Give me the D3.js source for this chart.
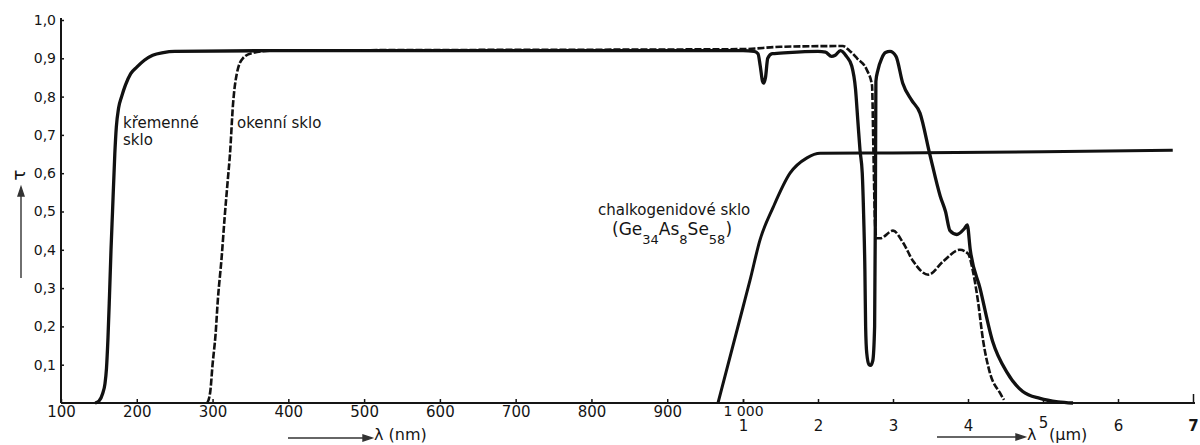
<!DOCTYPE html>
<html>
<head>
<meta charset="utf-8">
<script src="https://cdn.jsdelivr.net/npm/d3@7"></script>
<style>
  body { margin: 0; background: #fff; }
  text { font-family: "DejaVu Sans", sans-serif; fill: #151515; }
</style>
</head>
<body>
<div id="chart"></div>
<script>
// wavelength in nm, transmittance tau
const kremenne = [
  [145, 0], [150, 0.005], [155, 0.025], [158, 0.05], [160, 0.09], [162, 0.17], [164, 0.28],
  [166, 0.4], [168, 0.5], [171, 0.65], [173, 0.72], [176, 0.77], [180, 0.8], [185, 0.83],
  [192, 0.86], [200, 0.877], [210, 0.895], [221, 0.908], [235, 0.915], [250, 0.918],
  [400, 0.92], [1000, 0.92], [1150, 0.918], [1200, 0.912], [1230, 0.88], [1260, 0.84],
  [1275, 0.835], [1300, 0.85], [1330, 0.9], [1390, 0.912], [1600, 0.915], [2000, 0.918],
  [2100, 0.916], [2180, 0.905], [2230, 0.908], [2300, 0.92], [2380, 0.905], [2450, 0.88],
  [2500, 0.82], [2530, 0.74], [2560, 0.66], [2590, 0.6], [2610, 0.48], [2625, 0.35],
  [2635, 0.2], [2650, 0.13], [2680, 0.1], [2700, 0.098], [2730, 0.11], [2755, 0.2],
  [2765, 0.5], [2772, 0.84], [2800, 0.87], [2850, 0.9], [2900, 0.915], [2960, 0.918],
  [3040, 0.905], [3130, 0.835], [3250, 0.79], [3360, 0.757], [3490, 0.65], [3630, 0.54],
  [3700, 0.5], [3760, 0.45], [3850, 0.44], [3950, 0.455], [3990, 0.465], [4030, 0.4],
  [4160, 0.3], [4330, 0.16], [4520, 0.08], [4730, 0.03], [4960, 0.012], [5200, 0.003], [5400, 0]
];

const okenni = [
  [293, 0], [297, 0.03], [300, 0.1], [304, 0.18], [307, 0.27], [312, 0.38], [316, 0.486],
  [320, 0.58], [323, 0.65], [327, 0.78], [332, 0.86], [340, 0.9], [353, 0.914], [380, 0.92],
  [1000, 0.924], [1500, 0.93], [2330, 0.932], [2420, 0.92], [2520, 0.9], [2650, 0.87],
  [2720, 0.83], [2740, 0.65], [2760, 0.47], [2780, 0.43], [2830, 0.43], [3000, 0.45],
  [3130, 0.42], [3270, 0.37], [3470, 0.335], [3670, 0.37], [3890, 0.4], [4000, 0.39],
  [4070, 0.34], [4130, 0.27], [4200, 0.165], [4290, 0.08], [4430, 0.025], [4480, 0.008]
];

const chalkogenid = [
  [967, 0], [1000, 0.25], [1093, 0.32], [1227, 0.426], [1400, 0.51], [1627, 0.6],
  [1853, 0.64], [2030, 0.652], [3000, 0.653], [5000, 0.656], [6730, 0.66]
];

const nmTicks = [100, 200, 300, 400, 500, 600, 700, 800, 900, 1000];
const umTicks = [1, 2, 3, 4, 5, 6, 7];
const tauTicks = [0.1, 0.2, 0.3, 0.4, 0.5, 0.6, 0.7, 0.8, 0.9, 1.0];

const W = 1200, H = 445;

const svg = d3.select("#chart").append("svg")
  .attr("width", W).attr("height", H);

// split axis: nm up to 1000, then µm
const x = d3.scaleLinear().domain([100, 1000, 7000]).range([61, 743, 1193]);
const y = d3.scaleLinear().domain([0, 1]).range([403, 20]);

// y axis
const yAxis = svg.append("g")
  .attr("transform", "translate(61,0)")
  .call(d3.axisLeft(y).tickValues(tauTicks).tickSizeInner(-3).tickSizeOuter(0)
    .tickPadding(5).tickFormat(d => d3.format(".1f")(d).replace(".", ",")));
yAxis.select(".domain").attr("stroke", "#151515").attr("stroke-width", 2)
  .attr("d", "M0,403V18");
yAxis.selectAll("line").attr("stroke", "#151515").attr("stroke-width", 1.5);
yAxis.selectAll("text").style("font-size", "14px").attr("fill", "#151515");

// x axis, nm part
const xNm = svg.append("g")
  .attr("transform", "translate(0,403)")
  .call(d3.axisBottom(x).tickValues(nmTicks).tickSizeInner(-4).tickSizeOuter(0)
    .tickFormat(d => d === 1000 ? "1 000" : d));
xNm.select(".domain").remove();
xNm.selectAll("line").attr("stroke", "#151515").attr("stroke-width", 1.5);
xNm.selectAll("text").attr("y", 14).attr("dy", 0).style("font-size", "15px").attr("fill", "#151515");
xNm.selectAll(".tick").filter(d => d === 1000).select("text").style("font-size", "14px").attr("y", 13);

// x axis, µm part
const xUm = svg.append("g")
  .attr("transform", "translate(0,403)")
  .call(d3.axisBottom(x).tickValues(umTicks.map(d => d * 1000)).tickSizeInner(-4).tickSizeOuter(0)
    .tickFormat(d => d / 1000));
xUm.select(".domain").remove();
xUm.selectAll("line").attr("stroke", "#151515").attr("stroke-width", 1.5);
xUm.selectAll("text").attr("y", 28).attr("dy", 0).style("font-size", "15px").attr("fill", "#151515")
  .style("font-weight", d => d === 7000 ? "bold" : null);
xUm.selectAll(".tick").filter(d => d === 5000).select("text").attr("y", 25);
xUm.selectAll(".tick").filter(d => d === 7000).select("line").attr("y2", -9);

svg.append("line")
  .attr("x1", 61).attr("x2", 1195).attr("y1", 403).attr("y2", 403)
  .attr("stroke", "#151515").attr("stroke-width", 2);

// curves
const line = d3.line()
  .x(d => x(d[0]))
  .y(d => y(d[1]))
  .curve(d3.curveMonotoneX);

svg.append("path").datum(kremenne)
  .attr("fill", "none").attr("stroke", "#111").attr("stroke-width", 3.3)
  .attr("stroke-linejoin", "round").attr("d", line);

svg.append("path").datum(chalkogenid)
  .attr("fill", "none").attr("stroke", "#111").attr("stroke-width", 3)
  .attr("stroke-linejoin", "round").attr("d", line);

svg.append("path").datum(okenni)
  .attr("fill", "none").attr("stroke", "#111").attr("stroke-width", 2.6)
  .attr("stroke-dasharray", "7,2").attr("d", line);

// labels
const lab = svg.append("g").style("font-size", "15px");
lab.append("text").attr("x", 123).attr("y", 128).text("křemenné");
lab.append("text").attr("x", 123).attr("y", 145).text("sklo");
lab.append("text").attr("x", 237).attr("y", 128).text("okenní sklo");
lab.append("text").attr("x", 598).attr("y", 215).text("chalkogenidové sklo");

const formula = svg.append("text").attr("x", 612).attr("y", 235).style("font-size", "17px");
[["(Ge", 0], ["34", 1], ["As", 0], ["8", 1], ["Se", 0], ["58", 1], [")", 0]].forEach(([t, sub], i, arr) => {
  const prev = i > 0 ? arr[i - 1][1] : 0;
  formula.append("tspan")
    .attr("dy", sub && !prev ? 9 : (!sub && prev ? -9 : 0))
    .style("font-size", sub ? "13px" : "17px")
    .text(t);
});

// axis titles with arrows
const ar = svg.append("g").attr("stroke", "#333").attr("stroke-width", 1.4).attr("fill", "#333");
ar.append("line").attr("x1", 21).attr("x2", 21).attr("y1", 278).attr("y2", 192);
ar.append("path").attr("d", "M21,187L18,196L24,196Z");
svg.append("text").attr("transform", "translate(20,175) rotate(-90)")
  .attr("text-anchor", "middle").attr("dominant-baseline", "middle")
  .style("font-size", "18px").text("τ");

ar.append("line").attr("x1", 288).attr("x2", 366).attr("y1", 438).attr("y2", 438);
ar.append("path").attr("d", "M372,438L363,435L363,441Z");
svg.append("text").attr("x", 374).attr("y", 440).style("font-size", "16px").text("λ (nm)");

ar.append("line").attr("x1", 937).attr("x2", 1019).attr("y1", 437).attr("y2", 437);
ar.append("path").attr("d", "M1025,437L1016,434L1016,440Z");
svg.append("text").attr("x", 1027).attr("y", 440).style("font-size", "16px").text("λ");
svg.append("text").attr("x", 1049).attr("y", 440).style("font-size", "16px").text("(µm)");
</script>
</body>
</html>
